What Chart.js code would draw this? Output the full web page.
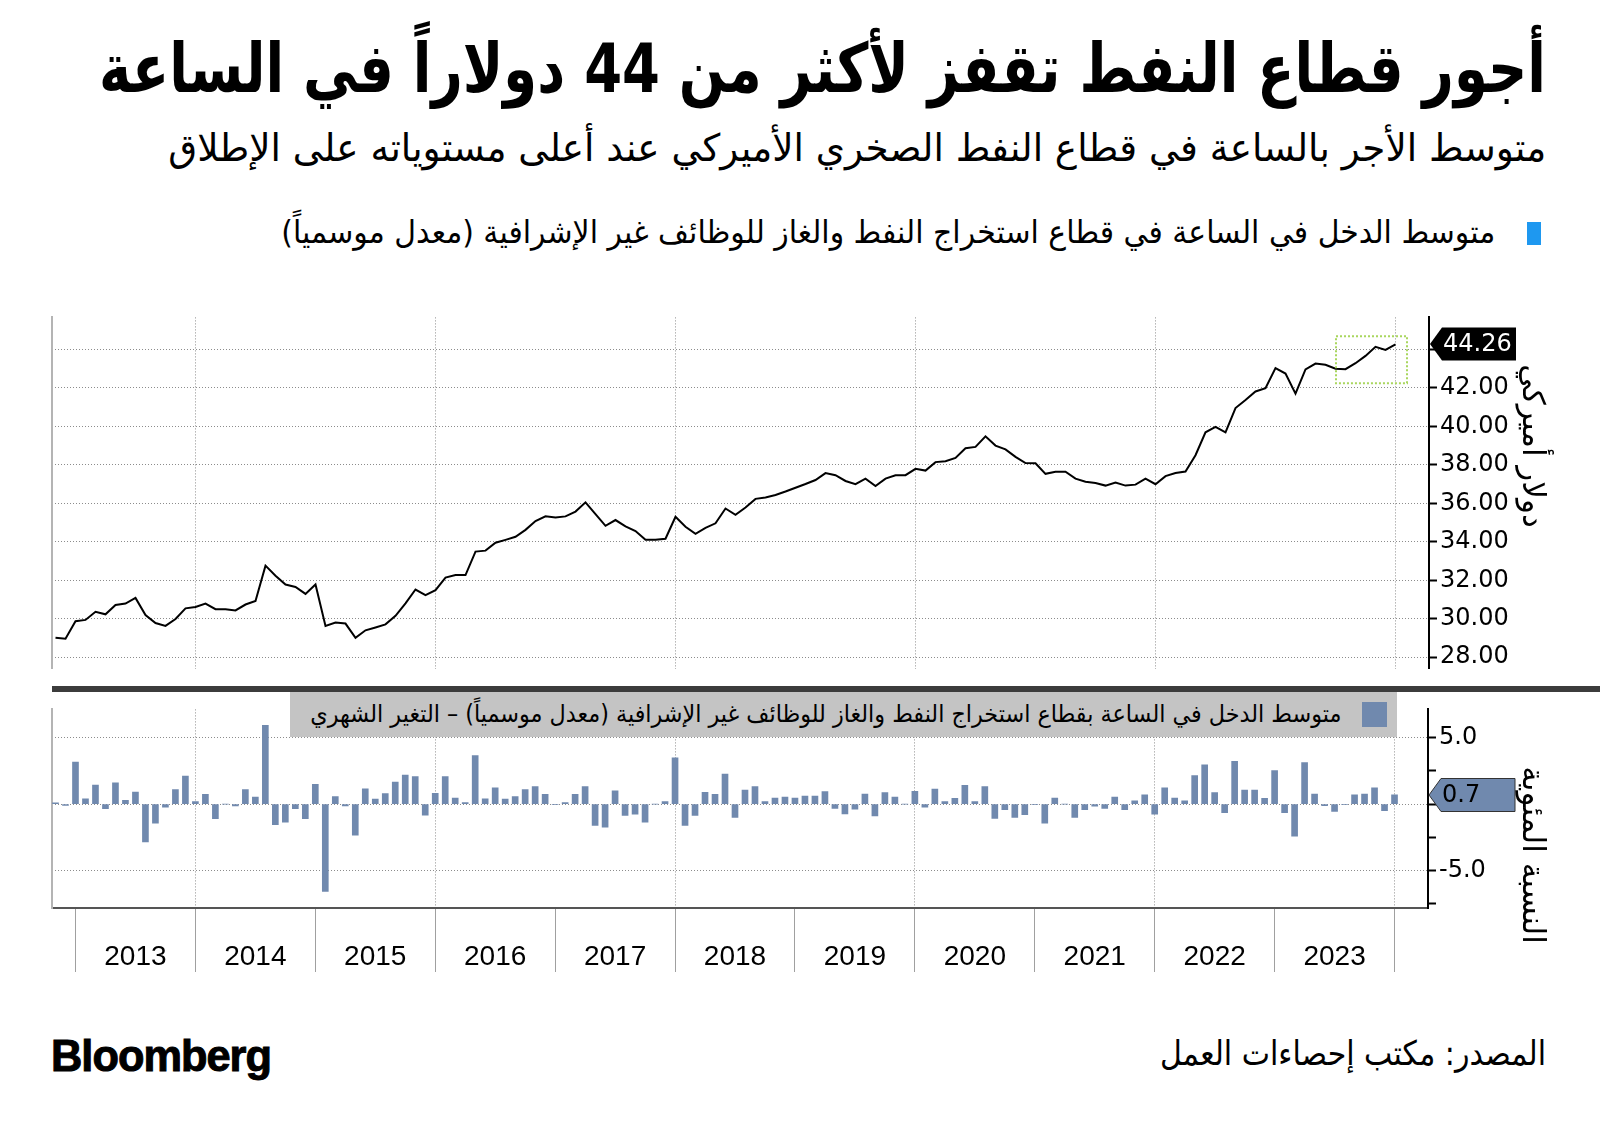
<!DOCTYPE html>
<html>
<head>
<meta charset="utf-8">
<script src="https://cdn.jsdelivr.net/npm/chart.js@4.4.1/dist/chart.umd.min.js"></script>
<style>
  body { margin: 0; background: #fff; }
  #page { position: relative; width: 1600px; height: 1134px; overflow: hidden; font-family: "DejaVu Sans", sans-serif; color: #000; }
  .t { position: absolute; white-space: nowrap; direction: rtl; transform-origin: right center; }
  canvas { position: absolute; left: 0; }
  #title { right: 54px; top: 29px; font-size: 68px; line-height: 80px; font-weight: bold; }
  #subtitle { right: 54px; top: 124px; font-size: 38px; line-height: 48px; }
  #legend1 { right: 105px; top: 212px; font-size: 32px; line-height: 40px; }
  #sq1 { position: absolute; left: 1527px; top: 222px; width: 14px; height: 23px; background: #1e98f0; }
  #band { position: absolute; left: 52px; top: 686px; width: 1548px; height: 6px; background: #3c3c3c; z-index: 3; }
  #legend2 { position: absolute; left: 290px; top: 692px; width: 1107px; height: 45px; background: #c4c4c4; z-index: 2; }
  #sq2 { position: absolute; left: 1072px; top: 10px; width: 25px; height: 25px; background: #7089ae; }
  #legend2 .t { right: 56px; top: 3px; font-size: 24px; line-height: 38px; }
  .rot { position: absolute; white-space: nowrap; direction: rtl; font-size: 31px; line-height: 36px; transform-origin: center center; }
  #ytitle1 { left: 1534px; top: 446px; }
  #ytitle2 { left: 1534px; top: 855px; }
  #brand { position: absolute; left: 51px; top: 1030px; font-family: "Liberation Sans", Arial, sans-serif; font-weight: bold; font-size: 44px; line-height: 52px; letter-spacing: -1px; -webkit-text-stroke: 1px #000; transform-origin: left center; }
  #source { right: 54px; top: 1032px; font-size: 34px; line-height: 42px; }
</style>
</head>
<body>
<div id="page">
  <div class="t" id="title" data-w="1447">أجور قطاع النفط تقفز لأكثر من 44 دولاراً في الساعة</div>
  <div class="t" id="subtitle" data-w="1378">متوسط الأجر بالساعة في قطاع النفط الصخري الأميركي عند أعلى مستوياته على الإطلاق</div>
  <div id="sq1"></div>
  <div class="t" id="legend1" data-w="1214">متوسط الدخل في الساعة في قطاع استخراج النفط والغاز للوظائف غير الإشرافية (معدل موسمياً)</div>

  <canvas id="wageChart" width="1600" height="386" style="top:300px"></canvas>
  <div id="band"></div>
  <canvas id="changeChart" width="1600" height="300" style="top:692px"></canvas>
  <div id="legend2">
    <div id="sq2"></div>
    <div class="t" data-w="1031">متوسط الدخل في الساعة بقطاع استخراج النفط والغاز للوظائف غير الإشرافية (معدل موسمياً) – التغير الشهري</div>
  </div>

  <div class="rot" id="ytitle1">دولار أميركي</div>
  <div class="rot" id="ytitle2">النسبة المئوية</div>

  <div id="brand" data-w="220">Bloomberg</div>
  <div class="t" id="source" data-w="386">المصدر: مكتب إحصاءات العمل</div>
</div>

<script>
// average hourly earnings, oil & gas extraction, USD, monthly Nov 2012 - Jan 2024
const wage = [
  29.01, 28.96, 29.87, 29.94, 30.36, 30.23, 30.72, 30.79, 31.08, 30.19, 29.78, 29.63,
  29.99, 30.54, 30.61, 30.79, 30.50, 30.50, 30.43, 30.74, 30.92, 32.76, 32.24, 31.78,
  31.65, 31.29, 31.78, 29.63, 29.80, 29.75, 29.01, 29.40, 29.55, 29.71, 30.15, 30.80,
  31.52, 31.23, 31.49, 32.14, 32.27, 32.27, 33.49, 33.54, 33.95, 34.10, 34.26, 34.62,
  35.08, 35.32, 35.26, 35.32, 35.57, 36.05, 35.44, 34.83, 35.13, 34.80, 34.56, 34.10,
  34.10, 34.16, 35.30, 34.78, 34.41, 34.72, 34.96, 35.73, 35.40, 35.78, 36.23, 36.30,
  36.43, 36.61, 36.81, 37.00, 37.21, 37.57, 37.46, 37.16, 36.99, 37.28, 36.90, 37.28,
  37.46, 37.46, 37.79, 37.70, 38.14, 38.19, 38.36, 38.86, 38.93, 39.48, 39.00, 38.80,
  38.41, 38.09, 38.08, 37.53, 37.64, 37.64, 37.28, 37.12, 37.05, 36.92, 37.08, 36.92,
  36.97, 37.28, 36.99, 37.41, 37.57, 37.65, 38.50, 39.69, 39.97, 39.69, 40.95, 41.37,
  41.81, 41.98, 43.03, 42.74, 41.70, 42.96, 43.26, 43.20, 42.99, 42.97, 43.28, 43.66,
  44.13, 43.97, 44.26
];

// month-on-month change, percent
const change = [
  0.1, -0.1, 3.17, 0.39, 1.44, -0.35, 1.60, 0.28, 0.90, -2.85, -1.44, -0.23,
  1.09, 2.11, 0.19, 0.74, -1.11, 0.0, -0.14, 1.09, 0.53, 5.95, -1.55, -1.37,
  -0.35, -1.11, 1.50, -6.60, 0.56, -0.14, -2.34, 1.16, 0.37, 0.79, 1.67, 2.18,
  2.08, -0.83, 0.81, 2.08, 0.46, 0.12, 3.66, 0.39, 1.23, 0.37, 0.56, 1.09,
  1.32, 0.74, -0.05, 0.12, 0.74, 1.32, -1.62, -1.74, 1.00, -0.86, -0.76, -1.37,
  0.0, 0.19, 3.50, -1.62, -0.86, 0.88, 0.74, 2.27, -1.00, 1.06, 1.32, 0.19,
  0.46, 0.53, 0.46, 0.60, 0.60, 0.95, -0.32, -0.74, -0.39, 0.76, -0.90, 0.86,
  0.53, 0.0, 0.97, -0.23, 1.13, 0.19, 0.44, 1.41, 0.19, 1.32, -1.09, -0.42,
  -1.00, -0.81, -0.05, -1.44, 0.46, 0.0, -1.00, -0.42, -0.16, -0.32, 0.53, -0.42,
  0.25, 0.69, -0.76, 1.23, 0.46, 0.25, 2.15, 2.96, 0.86, -0.65, 3.22, 1.06,
  1.06, 0.44, 2.52, -0.65, -2.43, 3.13, 0.76, -0.12, -0.56, -0.05, 0.69, 0.76,
  1.23, -0.49, 0.69
];

const years = ["2013", "2014", "2015", "2016", "2017", "2018", "2019", "2020", "2021", "2022", "2023"];
const wageTicks = [28, 29, 30, 31, 32, 33, 34, 35, 36, 37, 38, 39, 40, 41, 42, 43, 44, 45];
const changeTicks = [-7.5, -5, -2.5, 0, 2.5, 5];

// x is months since Jan 2013; the first observation is Nov 2012
const monthIndex = wage.map((_, i) => i - 2);
const yearStarts = years.map((_, k) => k * 12).concat([years.length * 12]);
const yearMids = years.map((_, k) => k * 12 + 6);
const gridMonths = yearStarts.filter(m => m % 24 === 12);

const X_MIN = -2.35, X_MAX = 135.35;
const GRID = "#8c8c8c";
const BAR = "#7089ae";
const NUM_FONT = { family: "DejaVu Sans", size: 24 };

// last-value tag on the right axis
const valueTag = {
  id: "valueTag",
  afterDraw(chart, args, opts) {
    const ctx = chart.ctx;
    const ys = chart.scales.y;
    const data = chart.data.datasets[0].data;
    const last = data[data.length - 1].y;
    const py = Math.round(ys.getPixelForValue(last));
    const x0 = ys.left + 1, h = 16.5;
    ctx.save();
    ctx.beginPath();
    ctx.moveTo(x0, py);
    ctx.lineTo(x0 + 12, py - h);
    ctx.lineTo(x0 + 86, py - h);
    ctx.lineTo(x0 + 86, py + h);
    ctx.lineTo(x0 + 12, py + h);
    ctx.closePath();
    ctx.fillStyle = opts.fill;
    ctx.fill();
    if (opts.stroke) {
      ctx.strokeStyle = opts.stroke;
      ctx.lineWidth = 1;
      ctx.stroke();
    }
    ctx.fillStyle = opts.color;
    ctx.font = "24px 'DejaVu Sans'";
    ctx.textBaseline = "middle";
    ctx.textAlign = "left";
    ctx.fillText(last.toFixed(opts.digits), x0 + 13, py + 1);
    ctx.restore();
  }
};

// dotted box around the latest months
const highlight = {
  id: "highlight",
  afterDatasetsDraw(chart, args, opts) {
    const xs = chart.scales.x, ys = chart.scales.y, ctx = chart.ctx;
    const x1 = xs.getPixelForValue(opts.x[0]), x2 = xs.getPixelForValue(opts.x[1]);
    const y1 = ys.getPixelForValue(opts.y[1]), y2 = ys.getPixelForValue(opts.y[0]);
    ctx.save();
    ctx.strokeStyle = "#a9d65e";
    ctx.lineWidth = 2;
    ctx.setLineDash([2, 2]);
    ctx.strokeRect(x1, y1, x2 - x1, y2 - y1);
    ctx.restore();
  }
};

const leftEdge = {
  position: "left",
  ticks: { display: false },
  grid: { drawOnChartArea: false, drawTicks: false },
  border: { color: "#b4b4b4", width: 2 },
  afterFit: s => { s.width = 0; }
};

new Chart(document.getElementById("wageChart"), {
  type: "line",
  data: {
    datasets: [{
      data: wage.map((v, i) => ({ x: monthIndex[i], y: v })),
      borderColor: "#000",
      borderWidth: 2,
      pointRadius: 0,
      tension: 0
    }]
  },
  options: {
    responsive: false,
    animation: false,
    events: [],
    layout: { padding: { left: 52, top: 13, right: 0, bottom: 0 } },
    plugins: {
      legend: { display: false },
      tooltip: { enabled: false },
      valueTag: { fill: "#000", color: "#fff", digits: 2 },
      highlight: { x: [126.05, 133.15], y: [42.24, 44.68] }
    },
    scales: {
      x: {
        type: "linear", min: X_MIN, max: X_MAX,
        afterBuildTicks: s => { s.ticks = gridMonths.map(v => ({ value: v })); },
        ticks: { display: false },
        grid: { drawTicks: false, color: GRID, lineWidth: 1 },
        border: { display: false, dash: [1, 2] },
        afterFit: s => { s.height = 0; }
      },
      y: {
        position: "right", min: 27.41, max: 45.66,
        afterBuildTicks: s => { s.ticks = wageTicks.map(v => ({ value: v })); },
        afterFit: s => { s.width = 171; },
        ticks: {
          callback: v => (v % 2 === 0 ? v.toFixed(2) : ""),
          font: NUM_FONT, color: "#000", padding: 3
        },
        grid: {
          color: c => (c.tick && c.tick.value % 2 === 0 ? GRID : "rgba(0,0,0,0)"),
          tickColor: "#000", tickLength: 8, tickWidth: 2
        },
        border: { color: "#000", width: 2, dash: [1, 2] }
      },
      yl: leftEdge
    }
  },
  plugins: [highlight, valueTag]
});

new Chart(document.getElementById("changeChart"), {
  type: "bar",
  data: {
    datasets: [{
      data: change.map((v, i) => ({ x: monthIndex[i], y: v })),
      backgroundColor: BAR,
      barThickness: 6
    }]
  },
  options: {
    responsive: false,
    animation: false,
    events: [],
    layout: { padding: { left: 52, top: 0, right: 0, bottom: 0 } },
    plugins: {
      legend: { display: false },
      tooltip: { enabled: false },
      valueTag: { fill: BAR, stroke: "#333", color: "#000", digits: 1 }
    },
    scales: {
      x: {
        type: "linear", min: X_MIN, max: X_MAX, offset: false,
        afterBuildTicks: s => {
          s.ticks = yearStarts.concat(yearMids).sort((a, b) => a - b).map(v => ({ value: v }));
        },
        ticks: {
          autoSkip: false, maxRotation: 0, minRotation: 0,
          callback: v => (v % 12 === 6 ? years[(v - 6) / 12] : ""),
          font: { family: "'Liberation Sans', Arial, sans-serif", size: 28 },
          color: "#000", padding: -32
        },
        grid: {
          offset: false,
          color: c => (c.tick && gridMonths.includes(c.tick.value) ? GRID : "rgba(0,0,0,0)"),
          tickColor: c => (c.tick && c.tick.value % 12 === 0 ? "#a0a0a0" : "rgba(0,0,0,0)"),
          tickLength: 64, tickWidth: 1, lineWidth: 1
        },
        border: { color: "#555", width: 2, dash: [1, 2] },
        afterFit: s => { s.height = 84; }
      },
      y: {
        position: "right", min: -7.85, max: 7.15,
        afterBuildTicks: s => { s.ticks = changeTicks.map(v => ({ value: v })); },
        afterFit: s => { s.width = 172; },
        ticks: {
          callback: v => (v % 5 === 0 ? v.toFixed(1) : ""),
          font: NUM_FONT, color: "#000", padding: 3
        },
        grid: {
          color: c => (c.tick && c.tick.value % 5 === 0 ? GRID : "rgba(0,0,0,0)"),
          tickColor: "#000", tickLength: 8, tickWidth: 2
        },
        border: { color: "#000", width: 2, dash: [1, 2] }
      },
      yl: leftEdge
    }
  },
  plugins: [valueTag]
});

// stretch the text blocks to the widths they have in the original layout
document.querySelectorAll("[data-w]").forEach(el => {
  const w = el.getBoundingClientRect().width;
  el.style.transform = "scaleX(" + (Number(el.dataset.w) / w).toFixed(4) + ")";
});
document.querySelectorAll(".rot").forEach(el => {
  const r = el.getBoundingClientRect();
  el.style.left = (parseFloat(getComputedStyle(el).left) - r.width / 2) + "px";
  el.style.top = (parseFloat(getComputedStyle(el).top) - r.height / 2) + "px";
  el.style.transform = "rotate(90deg)";
});
</script>
</body>
</html>
